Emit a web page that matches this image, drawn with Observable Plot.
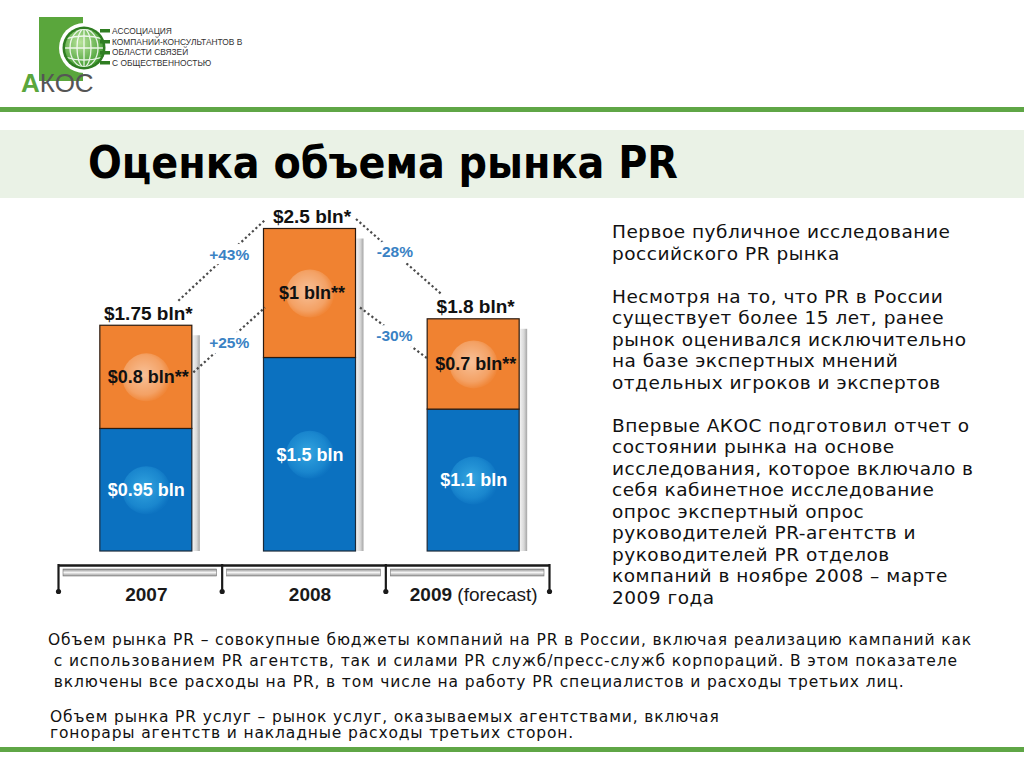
<!DOCTYPE html>
<html>
<head>
<meta charset="utf-8">
<script src="https://cdn.jsdelivr.net/npm/d3@7"></script>
<script src="https://cdn.jsdelivr.net/npm/@observablehq/plot@0.6"></script>
<style>
  html, body { margin: 0; padding: 0; background: #fff; }
  #page { position: relative; width: 1024px; height: 768px; overflow: hidden; background: #fff; }
  .abs { position: absolute; }
  #topline { left: 0; top: 107px; width: 1024px; height: 5px; background: #5fa646; }
  #band { left: 0; top: 130px; width: 1024px; height: 68px; background: #eaf2e6; }
  #bottomline { left: 0; top: 747px; width: 1024px; height: 5px; background: #5fa646; }
  #side { left: 612px; top: 221px; font-family: "DejaVu Sans", Verdana, sans-serif; font-size: 18.5px; letter-spacing: 0.5px; line-height: 21.5px; color: #111; white-space: nowrap; }
  #note1 { left: 48px; top: 630px; font-family: "DejaVu Sans", Verdana, sans-serif; font-size: 15.5px; letter-spacing: 0.85px; line-height: 21px; color: #111; white-space: nowrap; }
  #note2 { left: 50px; top: 709px; font-family: "DejaVu Sans", Verdana, sans-serif; font-size: 15.5px; letter-spacing: 0.85px; line-height: 16px; color: #111; white-space: nowrap; }
  #chart { left: 0; top: 200px; }
</style>
</head>
<body>
<div id="page">
  <svg class="abs" style="left:0;top:0" width="320" height="105">
    <defs>
      <radialGradient id="globeGrad" cx="40%" cy="35%" r="70%">
        <stop offset="0%" stop-color="#b8e39a"/>
        <stop offset="100%" stop-color="#3f9a2e"/>
      </radialGradient>
      <clipPath id="globeClip"><circle cx="84" cy="48" r="19"/></clipPath>
    </defs>
    <rect x="39" y="17" width="44" height="64" fill="#5aa63c"/>
    <circle cx="84" cy="48" r="25" fill="#fff"/>
    <circle cx="84" cy="48" r="21.5" fill="#2f7d22"/>
    <circle cx="84" cy="48" r="19" fill="url(#globeGrad)"/>
    <g clip-path="url(#globeClip)" stroke="#ffffff" stroke-width="1.3" fill="none" opacity="0.85">
      <ellipse cx="84" cy="48" rx="7" ry="19"/>
      <ellipse cx="84" cy="48" rx="14" ry="19"/>
      <line x1="84" y1="29" x2="84" y2="67"/>
      <path d="M65 39 Q84 33 103 39"/>
      <path d="M65 48 L103 48"/>
      <path d="M65 57 Q84 63 103 57"/>
      <path d="M68 32 Q84 26 100 32"/>
      <path d="M68 64 Q84 70 100 64"/>
    </g>
    <g fill="#2f7d22">
      <rect x="100" y="29" width="10" height="3.5"/>
      <rect x="100" y="40" width="10" height="3.5"/>
      <rect x="100" y="51" width="10" height="3.5"/>
      <rect x="100" y="61" width="10" height="3.5"/>
    </g>
    <g font-family="Liberation Sans, Arial, sans-serif" font-size="8.4" fill="#333">
      <text x="112" y="34">АССОЦИАЦИЯ</text>
      <text x="112" y="44.5">КОМПАНИЙ-КОНСУЛЬТАНТОВ В</text>
      <text x="112" y="55">ОБЛАСТИ СВЯЗЕЙ</text>
      <text x="112" y="65.5">С ОБЩЕСТВЕННОСТЬЮ</text>
    </g>
    <text x="21" y="92" font-family="Liberation Sans, Arial, sans-serif" font-size="26"><tspan fill="#5aa63c" font-weight="bold">А</tspan><tspan fill="#555">КОС</tspan></text>
  </svg>
  <div id="topline" class="abs"></div>
  <div id="band" class="abs"></div>
  <svg class="abs" style="left:0;top:130px" width="1024" height="68">
    <text x="88" y="48" textLength="590" lengthAdjust="spacingAndGlyphs" font-family="DejaVu Sans Condensed, DejaVu Sans, sans-serif" font-weight="bold" font-size="44" fill="#000">Оценка объема рынка PR</text>
  </svg>
  <div id="chart" class="abs"></div>
  <div id="side" class="abs">Первое публичное исследование<br>российского PR рынка<br><br>Несмотря на то, что PR в России<br>существует более 15 лет, ранее<br>рынок оценивался исключительно<br>на базе экспертных мнений<br>отдельных игроков и экспертов<br><br>Впервые АКОС подготовил отчет о<br>состоянии рынка на основе<br>исследования, которое включало в<br>себя кабинетное исследование<br>опрос экспертный опрос<br>руководителей PR-агентств и<br>руководителей PR отделов<br>компаний в ноябре 2008 – марте<br>2009 года</div>
  <div id="note1" class="abs">Объем рынка PR – совокупные бюджеты компаний на PR в России, включая реализацию кампаний как<br>&nbsp;с использованием PR агентств, так и силами PR служб/пресс-служб корпораций. В этом показателе<br>&nbsp;включены все расходы на PR, в том числе на работу PR специалистов и расходы третьих лиц.</div>
  <div id="note2" class="abs">Объем рынка PR услуг – рынок услуг, оказываемых агентствами, включая<br>гонорары агентств и накладные расходы третьих сторон.</div>
  <div id="bottomline" class="abs"></div>
</div>
<script>
// ---- data ----
const years = ["2007", "2008", "2009"];
const yearNotes = ["", "", "(forecast)"];
const totalMarket = [1.75, 2.5, 1.8];        // $ bln, total PR market (*)
const agencyMarket = [0.8, 1.0, 0.7];        // $ bln, PR services market (**), orange
const inhouseMarket = [0.95, 1.5, 1.1];      // $ bln, remainder, blue
const totalChangeLabels = ["+43%", "-28%"];
const agencyChangeLabels = ["+25%", "-30%"];

const rows = years.map((year, i) => ({
  i, year, note: yearNotes[i],
  blue: inhouseMarket[i], orange: agencyMarket[i], total: totalMarket[i],
  totalLabel: `$${totalMarket[i]} bln*`,
  orangeLabel: `$${agencyMarket[i]} bln**`,
  blueLabel: `$${inhouseMarket[i]} bln`
}));

// ---- layout ----
const W = 580, H = 420, ML = 58, MR = 31, MT = 28.5, MB = 69;
const ux = years.length / (W - ML - MR);   // data units per px (x)
const uy = 2.5 / (H - MT - MB);            // data units per px (y)
const cx = d => d.i + 6 * ux;              // bar centre
const half = 46 * ux;                      // bar half width
const blueMid = d => d.blue / 2;
const orangeMid = d => d.blue + d.orange / 2;

const FONT = "Liberation Sans, Arial, Helvetica, sans-serif";
const DOT = "#4a4a4a";
const PCT = "#3a82c4";

// connectors between years
const totalLinks = [], agencyLinks = [];
for (let k = 0; k < rows.length - 1; k++) {
  const a = rows[k], b = rows[k + 1];
  const aUp = a.total > b.total;
  totalLinks.push({
    x1: cx(a) + (aUp ? 46 : 32) * ux, y1: a.total + (aUp ? 10 : 25) * uy,
    x2: cx(b) - (aUp ? 32 : 44) * ux, y2: b.total + (aUp ? 25 : 10) * uy,
    shift: aUp ? -4 : 7,
    label: totalChangeLabels[k]
  });
  agencyLinks.push({
    x1: cx(a) + (aUp ? 50 : 47) * ux, y1: orangeMid(a) + (aUp ? -14 : 5) * uy,
    x2: cx(b) - 45 * ux, y2: orangeMid(b) + (aUp ? 5 : -14) * uy,
    shift: 0,
    label: agencyChangeLabels[k]
  });
}
const mid = (l, key) => (l[key + "1"] + l[key + "2"]) / 2;

// axis bracket edges
const edges = d3.range(years.length + 1).map(k => k - 0.5);

// text measuring for "2009 (forecast)"
const ctx = document.createElement("canvas").getContext("2d");
const measure = (t, f) => { ctx.font = f; return ctx.measureText(t).width; };
const yearFont = `bold 19px ${FONT}`, noteFont = `19px ${FONT}`;
const yearWidth = d => measure(d.year, yearFont);
const fullWidth = d => yearWidth(d) + (d.note ? measure(" " + d.note, noteFont) : 0);
const yearX = d => cx(d) - (fullWidth(d) / 2) * ux;

const chart = Plot.plot({
  width: W, height: H,
  marginLeft: ML, marginRight: MR, marginTop: MT, marginBottom: MB,
  x: {type: "linear", domain: [-0.5, years.length - 0.5], axis: null},
  y: {type: "linear", domain: [0, 2.5], axis: null},
  style: {background: "none", overflow: "visible", fontFamily: FONT},
  marks: [
    // bar shadows
    Plot.rect(rows, {x1: d => cx(d) + half, x2: d => cx(d) + half + 8 * ux, y1: 0, y2: d => d.total - 10 * uy, fill: "url(#shadowGrad)"}),
    // stacked bars
    Plot.rect(rows, {x1: d => cx(d) - half, x2: d => cx(d) + half, y1: 0, y2: "blue", fill: "#0b71c0", stroke: "#1c2a3a", strokeWidth: 1.2}),
    Plot.rect(rows, {x1: d => cx(d) - half, x2: d => cx(d) + half, y1: "blue", y2: "total", fill: "#f08231", stroke: "#2a1a10", strokeWidth: 1.2}),
    // glow discs
    Plot.dot(rows, {x: cx, y: blueMid, r: 24, fill: "url(#glowB)", stroke: "none"}),
    Plot.dot(rows, {x: cx, y: orangeMid, r: 24, fill: "url(#glowO)", stroke: "none"}),
    // dotted connectors
    Plot.link(totalLinks, {x1: "x1", y1: "y1", x2: "x2", y2: "y2", stroke: DOT, strokeWidth: 2.2, strokeDasharray: "2.2 2.6"}),
    Plot.link(agencyLinks, {x1: "x1", y1: "y1", x2: "x2", y2: "y2", stroke: DOT, strokeWidth: 2.2, strokeDasharray: "2.2 2.6"}),
    Plot.text(totalLinks, {x: l => mid(l, "x") + l.shift * ux, y: l => mid(l, "y"), text: "label", dy: -5, fill: PCT, stroke: "white", strokeWidth: 12, paintOrder: "stroke", fontWeight: "bold", fontSize: 15.5}),
    Plot.text(agencyLinks, {x: l => mid(l, "x"), y: l => mid(l, "y"), text: "label", dy: 3, fill: PCT, stroke: "white", strokeWidth: 12, paintOrder: "stroke", fontWeight: "bold", fontSize: 15.5}),
    // value labels
    Plot.text(rows, {x: d => cx(d) + 2 * ux, y: "total", text: "totalLabel", lineAnchor: "bottom", dy: -6, fill: "#111", fontWeight: "bold", fontSize: 19}),
    Plot.text(rows, {x: d => cx(d) + 2 * ux, y: orangeMid, text: "orangeLabel", fill: "#111", fontWeight: "bold", fontSize: 18}),
    Plot.text(rows, {x: cx, y: blueMid, text: "blueLabel", fill: "#fff", fontWeight: "bold", fontSize: 18}),
    // bracket axis
    Plot.rect(d3.range(years.length), {x1: k => k - 0.5 + 5 * ux, x2: k => k + 0.5 - 5 * ux, y1: -18 * uy, y2: -25 * uy, fill: "url(#axisGrad)", stroke: "#777", strokeWidth: 0.6}),
    Plot.ruleY([0], {x1: -0.5, x2: years.length - 0.5, dy: 14, stroke: "#1a1a1a", strokeWidth: 2.5}),
    Plot.ruleX(edges, {x: e => e, y1: -13 * uy, y2: -40 * uy, stroke: "#1a1a1a", strokeWidth: 2.2}),
    Plot.dot(edges, {x: e => e, y: -40 * uy, r: 2.6, fill: "#1a1a1a", stroke: "none"}),
    Plot.text(rows, {x: yearX, y: -43 * uy, text: "year", textAnchor: "start", fill: "#1a1a1a", fontWeight: "bold", fontSize: 19}),
    Plot.text(rows.filter(d => d.note), {x: d => yearX(d) + (yearWidth(d) + measure(" ", noteFont)) * ux, y: -43 * uy, text: "note", textAnchor: "start", fill: "#1a1a1a", fontSize: 19})
  ]
});

const defs = document.createElementNS("http://www.w3.org/2000/svg", "defs");
defs.innerHTML = `
  <linearGradient id="shadowGrad" x1="0" x2="1" y1="0" y2="0">
    <stop offset="0%" stop-color="#f7f7f7"/><stop offset="60%" stop-color="#d8d8d8"/><stop offset="100%" stop-color="#a5a5a5"/>
  </linearGradient>
  <linearGradient id="axisGrad" x1="0" x2="0" y1="0" y2="1">
    <stop offset="0%" stop-color="#8d8d8d"/><stop offset="50%" stop-color="#f4f4f4"/><stop offset="100%" stop-color="#9a9a9a"/>
  </linearGradient>
  <radialGradient id="glowO" cx="45%" cy="45%" r="55%">
    <stop offset="0%" stop-color="#ffffff" stop-opacity="0.5"/>
    <stop offset="75%" stop-color="#ffffff" stop-opacity="0.25"/>
    <stop offset="100%" stop-color="#ffffff" stop-opacity="0.05"/>
  </radialGradient>
  <radialGradient id="glowB" cx="45%" cy="45%" r="55%">
    <stop offset="0%" stop-color="#4cc3f2" stop-opacity="0.65"/>
    <stop offset="75%" stop-color="#35aee8" stop-opacity="0.35"/>
    <stop offset="100%" stop-color="#35aee8" stop-opacity="0.05"/>
  </radialGradient>`;
chart.insertBefore(defs, chart.firstChild);
document.getElementById("chart").appendChild(chart);
</script>
</body>
</html>
